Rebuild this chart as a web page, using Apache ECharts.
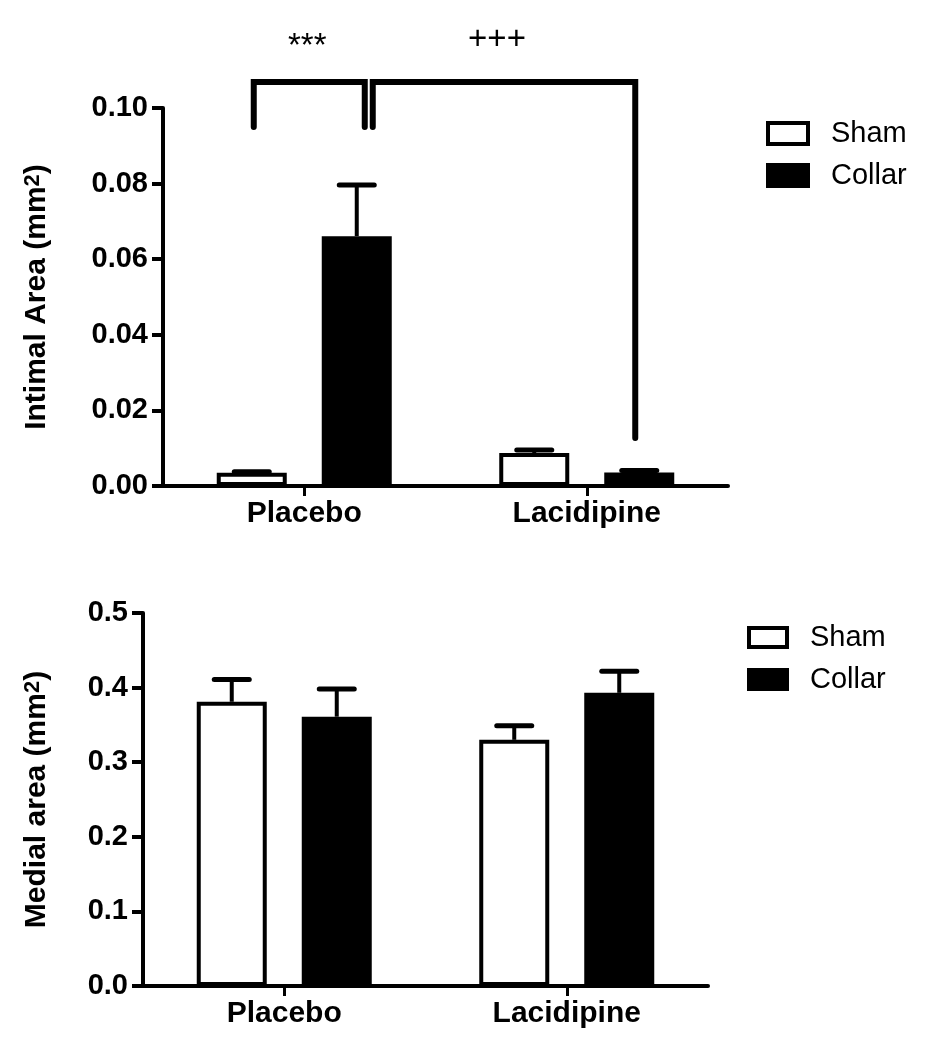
<!DOCTYPE html>
<html><head><meta charset="utf-8">
<script src="https://cdn.jsdelivr.net/npm/echarts@6/dist/echarts.min.js"></script>
<style>html,body{margin:0;padding:0;background:#fff}#c{width:928px;height:1050px}</style>
</head><body><div id="c"></div>
<script>
// ---------- data ----------
const categories = ['Placebo', 'Lacidipine'];
const seriesNames = ['Sham', 'Collar'];
const intimalSham = [0.0035, 0.0087];
const intimalShamUpper = [0.0038, 0.0095];
const intimalCollar = [0.0661, 0.0036];
const intimalCollarUpper = [0.0796, 0.0041];
const medialSham = [0.381, 0.330];
const medialShamUpper = [0.411, 0.349];
const medialCollar = [0.361, 0.393];
const medialCollarUpper = [0.398, 0.422];
const intimalAxis = { min: 0, max: 0.10, interval: 0.02 };
const medialAxis = { min: 0, max: 0.5, interval: 0.1 };
// significance brackets: ends given as [categoryIndex, seriesIndex]
const brackets = [
  { from: [0, 0], to: [0, 1], top: 0.1069, leftEnd: 0.095, rightEnd: 0.095, label: '***', labelY: 0.1162 },
  { from: [0, 1], to: [1, 1], top: 0.1069, leftEnd: 0.095, rightEnd: 0.0127, label: '+++', labelY: 0.1180 }
];

// ---------- style ----------
const FONT = 'Liberation Sans, Arial, Helvetica, sans-serif';
const BAR_W = 70, BAR_GAP = 0.5;
const OFF = BAR_W * (1 + BAR_GAP) / 2;
const CAP = 35;
const bracketNudge = [[2, 8], [16, -4]];
const labelNudgeX = [-2, -7];

function errRender(sign) {
  return function (params, api) {
    const base = api.coord([api.value(0), api.value(1)]);
    const up = api.coord([api.value(0), api.value(2)]);
    const cx = base[0] + sign * OFF;
    return { type: 'group', children: [
      { type: 'line', shape: { x1: cx, y1: base[1], x2: cx, y2: up[1] }, style: { stroke: '#000', lineWidth: 4 } },
      { type: 'line', shape: { x1: cx - CAP / 2, y1: up[1], x2: cx + CAP / 2, y2: up[1] }, style: { stroke: '#000', lineWidth: 5, lineCap: 'round' } }
    ] };
  };
}
function bracketRender(params, api) {
  const b = brackets[params.dataIndex];
  const nd = bracketNudge[params.dataIndex];
  const sgn = s => (s === 0 ? -1 : 1);
  const x1 = api.coord([b.from[0], 0])[0] + sgn(b.from[1]) * OFF + nd[0];
  const x2 = api.coord([b.to[0], 0])[0] + sgn(b.to[1]) * OFF + nd[1];
  const yT = api.coord([0, b.top])[1];
  const yL = api.coord([0, b.leftEnd])[1];
  const yR = api.coord([0, b.rightEnd])[1];
  const yLab = api.coord([0, b.labelY])[1];
  const st = { stroke: '#000', lineWidth: 6, lineCap: 'round', lineJoin: 'miter', fill: null };
  return { type: 'group', children: [
    { type: 'polyline', shape: { points: [[x1, yL], [x1, yT], [x2, yT], [x2, yR]] }, style: st },
    { type: 'text', x: (x1 + x2) / 2 + labelNudgeX[params.dataIndex], y: yLab, style: { text: b.label, fontSize: 33, fontFamily: FONT, fill: '#000', align: 'center', verticalAlign: 'middle' } }
  ] };
}

const xAxisCommon = {
  type: 'category', data: categories,
  axisLine: { show: true, lineStyle: { color: '#000', width: 4 } },
  axisTick: { show: true, alignWithLabel: true, length: 10, lineStyle: { color: '#000', width: 3 } },
  axisLabel: { fontSize: 30, fontWeight: 'bold', color: '#000', fontFamily: FONT, margin: 13 },
  splitLine: { show: false }
};
function yAxisDef(gridIndex, ax, name, gap, digits) {
  return {
    type: 'value', gridIndex, min: ax.min, max: ax.max, interval: ax.interval,
    name, nameLocation: 'middle', nameRotate: 90, nameGap: gap,
    nameTextStyle: { fontSize: 30, fontWeight: 'bold', color: '#000', fontFamily: FONT,
      rich: { sup: { fontSize: 22, fontWeight: 'bold', color: '#000', fontFamily: FONT, verticalAlign: 'top', lineHeight: 20 } } },
    axisLine: { show: true, lineStyle: { color: '#000', width: 4 } },
    axisTick: { show: true, length: 11, lineStyle: { color: '#000', width: 4 } },
    axisLabel: { fontSize: 29, fontWeight: 'bold', color: '#000', fontFamily: FONT, margin: 15,
      formatter: v => v.toFixed(digits) },
    splitLine: { show: false }
  };
}
function barSeries(name, idx, data, fill) {
  return { type: 'bar', name, xAxisIndex: idx, yAxisIndex: idx, data, barWidth: BAR_W, barGap: (BAR_GAP * 100) + '%',
    itemStyle: { color: fill, borderColor: '#000', borderWidth: 4 }, z: 2 };
}
function errSeries(idx, mean, upper, sign) {
  return { type: 'custom', xAxisIndex: idx, yAxisIndex: idx, renderItem: errRender(sign), z: 3,
    encode: { x: 0, y: [1, 2] }, data: mean.map((m, i) => [i, m, upper[i]]), silent: true };
}

const legendItemStyle = { borderColor: '#000', borderWidth: 4 };
const chart = echarts.init(document.getElementById('c'), null, { renderer: 'canvas' });
chart.setOption({
  backgroundColor: '#ffffff',
  animation: false,
  grid: [
    { left: 163, top: 108, width: 565, height: 378 },
    { left: 143, top: 613, width: 565, height: 373 }
  ],
  xAxis: [Object.assign({ gridIndex: 0 }, xAxisCommon), Object.assign({ gridIndex: 1 }, xAxisCommon)],
  yAxis: [
    yAxisDef(0, intimalAxis, 'Intimal Area (mm{sup|2})', 111, 2),
    yAxisDef(1, medialAxis, 'Medial area (mm{sup|2})', 91, 1)
  ],
  legend: [
    { orient: 'vertical', left: 766, top: 119, padding: 0, icon: 'rect', itemWidth: 40, itemHeight: 21, itemGap: 13, data: seriesNames,
      itemStyle: legendItemStyle,
      textStyle: { fontSize: 29, lineHeight: 25, color: '#000', fontFamily: FONT, padding: [0, 0, 0, 18] } },
    { orient: 'vertical', left: 747, top: 623, padding: 0, icon: 'rect', itemWidth: 38, itemHeight: 19, itemGap: 13, data: seriesNames,
      itemStyle: legendItemStyle,
      textStyle: { fontSize: 29, lineHeight: 23, color: '#000', fontFamily: FONT, padding: [0, 0, 0, 18] } }
  ],
  series: [
    barSeries('Sham', 0, intimalSham, '#ffffff'),
    barSeries('Collar', 0, intimalCollar, '#000000'),
    barSeries('Sham', 1, medialSham, '#ffffff'),
    barSeries('Collar', 1, medialCollar, '#000000'),
    errSeries(0, intimalSham, intimalShamUpper, -1),
    errSeries(0, intimalCollar, intimalCollarUpper, 1),
    errSeries(1, medialSham, medialShamUpper, -1),
    errSeries(1, medialCollar, medialCollarUpper, 1),
    { type: 'custom', xAxisIndex: 0, yAxisIndex: 0, renderItem: bracketRender, clip: false, z: 4, silent: true,
      encode: { x: 0, y: 1 }, data: brackets.map(b => [b.from[0], b.top]) }
  ]
});
</script></body></html>
